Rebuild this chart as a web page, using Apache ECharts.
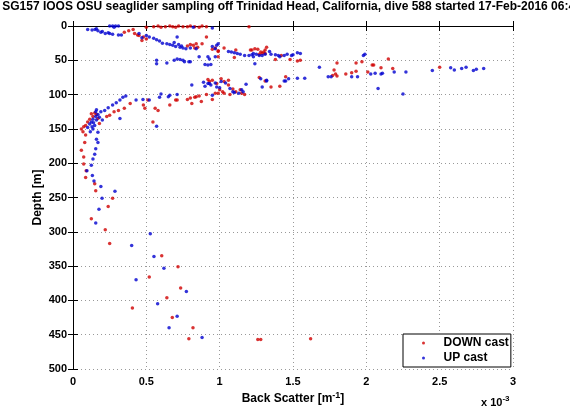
<!DOCTYPE html>
<html><head><meta charset="utf-8">
<script src="https://cdn.jsdelivr.net/npm/echarts@6/dist/echarts.min.js"></script>
<style>html,body{margin:0;padding:0;background:#fff}#c{width:570px;height:406px}</style>
</head><body><div id="c"></div>
<script>
// Back scatter values in units of 1e-3 m^-1, depth in m
var titleText = 'SG157 IOOS OSU seaglider sampling off Trinidad Head, California, dive 588 started 17-Feb-2016 06:41';
var xTicks = [0, 0.5, 1, 1.5, 2, 2.5, 3];
var yTicks = [0, 50, 100, 150, 200, 250, 300, 350, 400, 450, 500];
var downCast = [
[0.50,2],[0.55,1],[0.58,0],[0.60,2],[0.63,1],[0.66,0],[0.68,1],[0.70,2],[0.72,0],[0.75,1],[0.78,1],[0.80,0],[0.83,1],[0.86,2],[0.88,0],[0.91,1],[1.20,1],
[0.35,9],[0.38,7],[0.41,5],[0.42,11],[0.44,13],[0.45,14],[0.47,21],[0.48,16],[0.50,19],
[0.78,29],[0.80,27],[0.82,28],[0.84,26],[0.85,31],[0.83,32],[0.88,26],[0.91,16],
[0.95,34],[0.97,32],[0.99,36],[1.03,32],[0.99,37],[0.99,45],[1.10,46],[1.11,35],
[1.21,35],[1.22,35],[1.24,33],[1.26,34],[1.28,38],[1.29,40],[1.30,38],[1.31,35],[1.32,31],[1.27,41],[1.31,40],
[1.42,43],[1.48,49],[1.38,49],[1.53,51],[1.55,50],
[1.77,72],[1.79,70],[1.80,73],[1.78,64],[1.80,54],[1.86,70],[1.90,68],[1.93,66],[1.93,54],[1.97,52],[2.01,67],[2.04,57],[2.05,57],[2.10,61],[2.15,48],[2.18,62],[2.50,60],
[0.93,81],[0.92,78],[0.95,79],[1.01,77],[0.98,84],[1.03,81],[1.06,79],[1.27,75],[1.35,89],[1.41,88],[1.45,74],[1.31,80],
[0.97,98],[0.99,98],[1.00,93],[1.02,96],[1.03,98],[1.06,86],[1.07,100],[1.09,92],[1.11,96],[1.14,93],[1.15,98],[1.17,100],
[0.71,108],[0.78,107],[0.80,105],[0.83,104],[0.84,103],[0.81,113],[0.875,110],[0.95,107],[0.86,102],[0.91,100],
[0.66,115],[0.70,108],[0.51,108],[0.48,115],[0.49,120],[0.56,120],[0.58,123],[0.545,140],[0.39,113],[0.35,120],[0.31,123],[0.28,125],[0.25,130],[0.23,132],
[0.057,150],[0.073,147],[0.086,145],[0.10,140],[0.114,136],[0.136,132],[0.16,129],[0.17,135],[0.18,142],[0.125,128],[0.148,127],[0.068,154],[0.086,159],
[0.08,170],[0.057,181],[0.073,191],[0.073,201],[0.09,211],[0.086,221],[0.148,230],[0.155,240],[0.27,251],[0.24,263],[0.125,281],[0.22,297],[0.25,317],
[0.605,335],[0.716,351],[0.52,366],[0.734,382],[0.64,396],[0.405,411],[0.677,425],[0.818,440],[0.79,456],[1.26,457],[1.28,457],[1.62,456]
];
var upCast = [
[0.13,6],[0.15,5],[0.17,7],[0.19,9],[0.22,11],[0.25,11],[0.27,12],[0.31,13],[0.33,13],[0.25,0],[0.27,0],[0.29,0],[0.31,0],[0.28,2],[0.16,4],[0.20,8],[0.24,10],[0.95,3],[0.82,2],[0.10,5],
[0.45,11],[0.47,17],[0.50,14],[0.52,16],[0.55,18],[0.57,20],[0.59,22],[0.61,25],[0.64,26],[0.66,27],[0.68,28],[0.70,30],[0.73,31],[0.75,32],[0.77,33],[0.71,16],[0.69,24],[0.72,27],[0.74,29],[0.80,32],[0.84,33],
[0.95,30],[0.97,33],[0.98,28],[0.99,26],
[1.06,37],[1.08,38],[1.10,39],[1.12,40],[1.14,41],[1.17,43],[1.20,43],[1.23,45],[1.25,41],[1.27,43],[1.31,41],[1.34,37],[1.35,41],[1.41,45],[1.46,41],[1.49,43],
[1.22,42],[1.23,40],[1.29,43],[1.38,42],[1.40,43],[1.44,43],[1.50,42],[1.55,40],[1.53,39],[1.24,55],
[0.71,48],[0.73,49],[0.75,50],[0.76,52],[0.79,52],[0.80,52],[0.86,45],[0.92,45],[0.93,48],[0.97,45],[0.57,50],[0.57,55],[0.64,54],[0.69,50],[0.90,56],[0.92,57],[0.94,56],
[1.68,60],[1.74,74],[1.76,74],[1.90,74],[1.94,74],[1.98,43],[1.99,41],[2.03,70],[2.06,69],[2.10,70],[2.11,69],[2.08,91],[2.19,67],[2.25,99],[2.27,67],[2.45,65],
[2.575,61],[2.60,64],[2.65,62],[2.68,60],[2.73,65],[2.75,63],[2.80,62],
[1.28,77],[1.32,80],[1.44,80],[1.47,77],[1.53,76],[1.58,76],[0.81,86],[0.90,88],[0.93,84],[0.94,86],[0.97,83],[0.98,89],[1.00,90],[1.01,81],[1.04,83],[1.07,91],[1.09,96],[1.10,97],[1.13,98],[1.15,93],[1.16,96],[1.18,85],[1.29,89],[1.32,79],[1.45,80],[0.95,101],[0.89,82],[0.92,84],
[0.71,100],[0.66,101],[0.60,99],[0.59,104],[0.65,103],[0.52,108],[0.477,107],[0.43,108],[0.34,104],[0.36,102],[0.32,108],[0.295,112],[0.27,115],[0.24,119],[0.216,123],[0.19,125],[0.17,129],[0.155,132],[0.136,136],[0.125,140],[0.114,143],[0.148,145],[0.16,137],[0.18,133],[0.20,137],[0.136,150],[0.118,154],[0.155,125],[0.16,122],[0.32,135],[0.57,146],[0.13,147],[0.10,148],[0.14,141],
[0.17,155],[0.16,165],[0.17,170],[0.155,179],[0.148,187],[0.136,194],[0.125,203],[0.095,211],[0.132,218],[0.143,226],[0.19,234],[0.286,241],[0.198,251],[0.177,267],[0.155,287],
[0.527,303],[0.40,320],[0.552,336],[0.62,353],[0.43,370],[0.773,387],[0.577,405],[0.71,423],[0.655,440],[0.88,454]
];
var seriesNames = ['DOWN cast', 'UP cast'];
var seriesColors = ['#d00000', '#0000d0'];

var FONT = '"Liberation Sans", Arial, Helvetica, sans-serif';
var chart = echarts.init(document.getElementById('c'), null, {renderer: 'canvas'});
var gridLine = {show: true, lineStyle: {color: '#999', type: [1, 3], width: 1}};
var axLine = {show: true, lineStyle: {color: '#000', width: 1}};
var tick = {show: true, inside: true, length: 5, lineStyle: {color: '#000'}};
var lbl = {color: '#000', fontWeight: 'bold', fontSize: 11, fontFamily: FONT};
var nameLbl = {color: '#000', fontWeight: 'bold', fontSize: 12, fontFamily: FONT};
chart.setOption({
  animation: false,
  backgroundColor: '#fff',
  grid: {left: 73, right: 57, top: 26, bottom: 37, show: false, containLabel: false, outerBoundsMode: 'none'},
  xAxis: [{
    type: 'value', min: xTicks[0], max: xTicks[xTicks.length - 1], interval: 0.5, position: 'bottom',
    axisLine: axLine, axisTick: tick, splitLine: gridLine,
    axisLabel: Object.assign({margin: 7}, lbl),
    name: 'Back Scatter [m{sup|-1}]', nameLocation: 'middle', nameGap: 22, nameMoveOverlap: false,
    nameTextStyle: Object.assign({rich: {sup: {fontSize: 9, fontWeight: 'bold', fontFamily: FONT, padding: [0, 0, 7, 0]}}}, nameLbl)
  }, {
    type: 'value', min: xTicks[0], max: xTicks[xTicks.length - 1], interval: 0.5, position: 'top',
    axisLine: axLine, axisTick: tick, splitLine: {show: false}, axisLabel: {show: false}
  }],
  yAxis: [{
    type: 'value', inverse: true, min: yTicks[0], max: yTicks[yTicks.length - 1], interval: 50, position: 'left',
    axisLine: axLine, axisTick: tick, splitLine: gridLine,
    axisLabel: Object.assign({margin: 6}, lbl),
    name: 'Depth [m]', nameLocation: 'middle', nameGap: 29, nameRotate: 90, nameMoveOverlap: false,
    nameTextStyle: nameLbl
  }, {
    type: 'value', inverse: true, min: yTicks[0], max: yTicks[yTicks.length - 1], interval: 50, position: 'right',
    axisLine: axLine, axisTick: tick, splitLine: {show: false}, axisLabel: {show: false}
  }],
  legend: {
    orient: 'vertical', left: 403, top: 334,
    backgroundColor: '#fff', borderColor: '#000', borderWidth: 1, borderRadius: 0,
    padding: [2, 2, 2, 19], itemGap: 1, itemWidth: 30, itemHeight: 3,
    textStyle: {color: '#000', fontWeight: 'bold', fontSize: 12, fontFamily: FONT, lineHeight: 14},
    data: [{name: seriesNames[0], icon: 'circle'}, {name: seriesNames[1], icon: 'circle'}]
  },
  graphic: [{
    type: 'text', x: 292, y: 7,
    style: {text: titleText, fill: '#000', font: 'bold 12px ' + FONT, textAlign: 'center', textVerticalAlign: 'middle'}
  }, {
    type: 'text', x: 481, y: 395,
    style: {text: 'x 10{sup|-3}', fill: '#000', font: 'bold 11px ' + FONT,
      rich: {sup: {fontSize: 8, fontWeight: 'bold', fontFamily: FONT, padding: [0, 0, 7, 0]}}}
  }],
  series: [{
    name: seriesNames[0], type: 'scatter', data: downCast, symbol: 'circle', symbolSize: 3.5,
    itemStyle: {color: seriesColors[0]}, xAxisIndex: 0, yAxisIndex: 0
  }, {
    name: seriesNames[1], type: 'scatter', data: upCast, symbol: 'circle', symbolSize: 3.5,
    itemStyle: {color: seriesColors[1]}, xAxisIndex: 0, yAxisIndex: 0
  }]
});
</script></body></html>
